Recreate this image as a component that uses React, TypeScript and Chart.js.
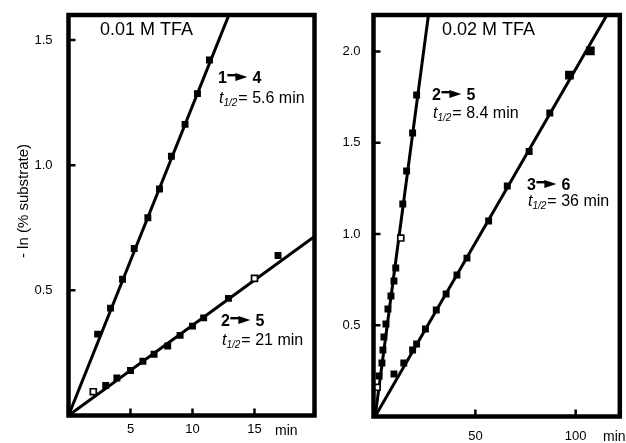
import React, { useEffect, useRef } from "react";
import { Chart, registerables } from "chart.js";
Chart.register(...registerables);

type P = [number, number];

// ---------- Left panel: 0.01 M TFA ----------
const leftTitle = "0.01 M TFA";
const left14: P[] = [
  [2.35, 0.325], [3.39, 0.429], [4.36, 0.544], [5.3, 0.667], [6.4, 0.79],
  [7.34, 0.905], [8.3, 1.036], [9.4, 1.163], [10.4, 1.286], [11.37, 1.42],
];
const left25: P[] = [
  [3.0, 0.12], [3.9, 0.15], [5.0, 0.18], [6.0, 0.217], [6.9, 0.245], [8.0, 0.278],
  [9.0, 0.32], [10.0, 0.357], [10.9, 0.39], [12.9, 0.468], [16.9, 0.639],
];
const left25Open: P[] = [[2.0, 0.095], [15.0, 0.548]];
const left14Fit: P[] = [[0, 0], [13.5, 1.67]];
const left25Fit: P[] = [[0, 0], [20, 0.721]];
const leftXTicks = [5, 10, 15];
const leftYTicks = [0.5, 1.0, 1.5];
const leftLabels = [["1", "4", "5.6"], ["2", "5", "21"]];

// ---------- Right panel: 0.02 M TFA ----------
const rightTitle = "0.02 M TFA";
const right25: P[] = [
  [2.0, 0.222], [3.4, 0.293], [3.9, 0.364], [4.4, 0.436], [5.4, 0.507], [6.4, 0.589],
  [7.9, 0.66], [9.4, 0.742], [10.3, 0.814], [13.8, 1.164], [15.7, 1.345], [18.7, 1.553], [20.7, 1.762],
];
const right25Open: P[] = [[1.0, 0.16], [12.8, 0.978]];
const right36: P[] = [
  [9.4, 0.233], [14.3, 0.293], [18.7, 0.364], [20.7, 0.397], [25.1, 0.479], [30.5, 0.584],
  [35.4, 0.671], [40.8, 0.775], [45.8, 0.868], [56.6, 1.071], [65.9, 1.263], [76.8, 1.452],
  [87.1, 1.663], [96.9, 1.871], [107.3, 2.003],
];
const right25Fit: P[] = [[0, 0], [28, 2.316]];
const right36Fit: P[] = [[0, 0], [118, 2.246]];
const rightXTicks = [50, 100];
const rightYTicks = [0.5, 1.0, 1.5, 2.0];
const rightLabels = [["2", "5", "8.4"], ["3", "6", "36"]];

const yAxisTitle = "- ln (% substrate)";
const unitLabel = "min";

const FONT = "'Liberation Sans', Arial, Helvetica, sans-serif";
Chart.defaults.font.family = FONT;
Chart.defaults.color = "#000";

const pts = (a: P[]) => a.map(([x, y]) => ({ x, y }));

function filled(data: P[], big: number[] = []) {
  return {
    data: pts(data),
    showLine: false,
    pointStyle: "rect",
    pointRadius: (c: any) => (big.includes(c.dataIndex) ? 6.2 : 4.9),
    pointHoverRadius: (c: any) => (big.includes(c.dataIndex) ? 6.2 : 4.9),
    pointBackgroundColor: "#000",
    pointBorderColor: "#000",
    pointBorderWidth: 0,
    order: 0,
  };
}
function hollow(data: P[]) {
  return {
    data: pts(data),
    showLine: false,
    pointStyle: "rect",
    pointRadius: 4.2,
    pointHoverRadius: 4.2,
    pointBackgroundColor: "#fff",
    pointBorderColor: "#000",
    pointBorderWidth: 1.7,
    order: 0,
  };
}
function fit(data: P[]) {
  return {
    data: pts(data),
    showLine: true,
    borderColor: "#000",
    borderWidth: 3,
    pointRadius: 0,
    pointHoverRadius: 0,
    order: 1,
  };
}

type Spec = {
  title: string; titleX: number; titleY: number;
  labels: string[][]; labelPos: [number, number, number][];
  minX: number; minY: number; yTitle?: boolean;
};

function drawReaction(ctx: CanvasRenderingContext2D, a: string, b: string, half: string, x: number, cy: number, ty: number) {
  ctx.textAlign = "left";
  ctx.textBaseline = "alphabetic";
  ctx.font = `bold 16px ${FONT}`;
  const base = cy + 5.7;
  ctx.fillText(a, x, base);
  const ax = x + ctx.measureText(a).width + 0.5;
  ctx.fillRect(ax, cy - 3, 9, 2.4);
  ctx.beginPath();
  ctx.moveTo(ax + 8, cy - 4);
  ctx.lineTo(ax + 20, cy);
  ctx.lineTo(ax + 8, cy + 4);
  ctx.closePath();
  ctx.fill();
  ctx.fillText(b, ax + 25, base);
  const tb = ty + 5.7;
  ctx.font = `italic 16px ${FONT}`;
  ctx.fillText("t", x + 1, tb);
  let cx = x + 1 + ctx.measureText("t").width;
  ctx.font = `italic 10px ${FONT}`;
  ctx.fillText("1/2", cx, tb + 3.5);
  cx += ctx.measureText("1/2").width + 1;
  ctx.font = `16px ${FONT}`;
  ctx.fillText(`= ${half} min`, cx, tb);
}

function deco(spec: Spec) {
  return {
    id: "deco",
    afterDraw(chart: any) {
      const ctx: CanvasRenderingContext2D = chart.ctx;
      const a = chart.chartArea;
      const xs = chart.scales.x;
      const ys = chart.scales.y;
      ctx.save();
      ctx.strokeStyle = "#000";
      ctx.fillStyle = "#000";
      ctx.lineCap = "butt";
      ctx.lineWidth = 2.5;
      ctx.beginPath();
      for (const t of ys.ticks) {
        const py = ys.getPixelForValue(t.value);
        ctx.moveTo(a.left, py);
        ctx.lineTo(a.left + 7, py);
      }
      for (const t of xs.ticks) {
        const px = xs.getPixelForValue(t.value);
        ctx.moveTo(px, a.bottom);
        ctx.lineTo(px, a.bottom - 7);
      }
      ctx.stroke();
      ctx.lineWidth = 4.5;
      ctx.lineJoin = "miter";
      ctx.beginPath();
      ctx.rect(a.left, a.top, a.right - a.left, a.bottom - a.top);
      ctx.stroke();

      ctx.font = `18px ${FONT}`;
      ctx.textAlign = "left";
      ctx.textBaseline = "middle";
      ctx.fillText(spec.title, spec.titleX, spec.titleY);

      spec.labels.forEach((l, i) => {
        const [x, cy, ty] = spec.labelPos[i];
        drawReaction(ctx, l[0], l[1], l[2], x, cy, ty);
      });

      ctx.font = `14px ${FONT}`;
      ctx.textAlign = "left";
      ctx.textBaseline = "middle";
      ctx.fillText(unitLabel, spec.minX, spec.minY);

      if (spec.yTitle) {
        ctx.save();
        ctx.translate(24, 201);
        ctx.rotate(-Math.PI / 2);
        ctx.font = `15px ${FONT}`;
        ctx.textAlign = "center";
        ctx.textBaseline = "middle";
        ctx.fillText(yAxisTitle, 0, 0);
        ctx.restore();
      }
      ctx.restore();
    },
  };
}

const noPad = (s: any) => { s.paddingTop = 0; s.paddingBottom = 0; s.paddingLeft = 0; s.paddingRight = 0; };

function makeConfig(o: {
  datasets: any[]; xMin: number; xMax: number; yMax: number; xTicks: number[]; yTicks: number[];
  padding: any; yWidth: number; xHeight: number; xPad: number; yPad: number; spec: Spec;
}): any {
  return {
    type: "scatter",
    data: { datasets: o.datasets },
    options: {
      responsive: false,
      animation: false,
      events: [],
      layout: { padding: o.padding },
      plugins: { legend: { display: false }, tooltip: { enabled: false } },
      scales: {
        x: {
          type: "linear",
          min: o.xMin,
          max: o.xMax,
          afterBuildTicks: (s: any) => { s.ticks = o.xTicks.map((v) => ({ value: v })); },
          afterFit: (s: any) => { s.height = o.xHeight; noPad(s); },
          grid: { display: false, drawTicks: false },
          border: { display: false },
          ticks: {
            padding: o.xPad, autoSkip: false, maxRotation: 0, color: "#000",
            font: { size: 13 }, callback: (v: any) => String(v),
          },
        },
        y: {
          type: "linear",
          min: 0,
          max: o.yMax,
          afterBuildTicks: (s: any) => { s.ticks = o.yTicks.map((v) => ({ value: v })); },
          afterFit: (s: any) => { s.width = o.yWidth; noPad(s); },
          grid: { display: false, drawTicks: false },
          border: { display: false },
          ticks: {
            padding: o.yPad, autoSkip: false, color: "#000",
            font: { size: 13 }, callback: (v: any) => Number(v).toFixed(1),
          },
        },
      },
    },
    plugins: [deco(o.spec)],
  };
}

export default function App() {
  const leftRef = useRef<HTMLCanvasElement>(null);
  const rightRef = useRef<HTMLCanvasElement>(null);

  useEffect(() => {
    const left = new Chart(leftRef.current!, makeConfig({
      datasets: [filled(left14), filled(left25), hollow(left25Open), fit(left14Fit), fit(left25Fit)],
      xMin: 0, xMax: 19.84, yMax: 1.6, xTicks: leftXTicks, yTicks: leftYTicks,
      padding: { left: 0, top: 15, right: 311.5, bottom: 0 },
      yWidth: 68.5, xHeight: 27.5, xPad: 6, yPad: 16,
      spec: {
        title: leftTitle, titleX: 100, titleY: 30,
        labels: leftLabels, labelPos: [[218, 77, 97], [221, 320, 339]],
        minX: 275, minY: 431, yTitle: true,
      },
    }));
    const right = new Chart(rightRef.current!, makeConfig({
      datasets: [filled(right25), hollow(right25Open), filled(right36, [13, 14]), fit(right25Fit), fit(right36Fit)],
      xMin: -0.8, xMax: 122, yMax: 2.2, xTicks: rightXTicks, yTicks: rightYTicks,
      padding: { left: 333.5, top: 15, right: 3, bottom: 0 },
      yWidth: 40, xHeight: 26.5, xPad: 12.5, yPad: 13,
      spec: {
        title: rightTitle, titleX: 442, titleY: 30,
        labels: rightLabels, labelPos: [[432, 94, 112], [527, 184, 200]],
        minX: 603, minY: 437,
      },
    }));
    return () => { left.destroy(); right.destroy(); };
  }, []);

  return (
    <div style={{ position: "fixed", left: 0, top: 0, width: 626, height: 443, background: "#fff" }}>
      <canvas ref={leftRef} width={626} height={443} style={{ position: "absolute", left: 0, top: 0 }} />
      <canvas ref={rightRef} width={626} height={443} style={{ position: "absolute", left: 0, top: 0 }} />
    </div>
  );
}
